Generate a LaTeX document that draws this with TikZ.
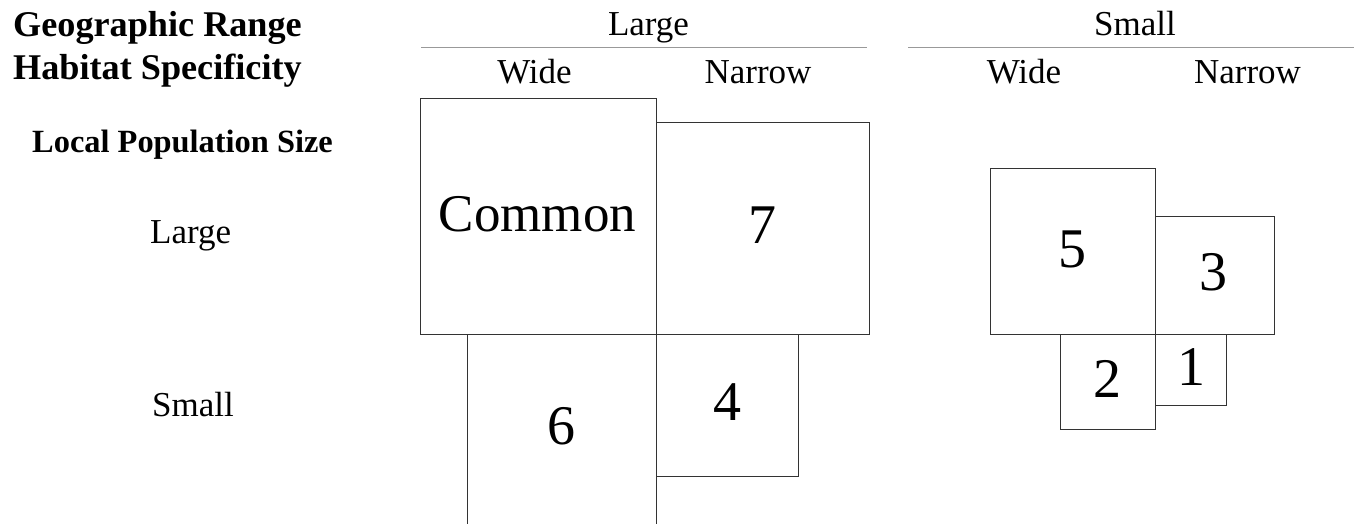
\documentclass[tikz,border=0pt]{standalone}
\usepackage{fontspec}
\setmainfont{Liberation Serif}
\begin{document}
\begin{tikzpicture}[x=1pt, y=-1pt,
  txt/.style={inner sep=0pt, anchor=base, font=\fontsize{35}{40}\selectfont},
  rowtxt/.style={txt, anchor=base west},
  head/.style={inner sep=0pt, anchor=base west, font=\fontsize{36.2}{40}\selectfont\bfseries},
  rule/.style={draw=black!40, line width=1.2pt},
  cell/.style={draw=black!80, line width=1.3pt, anchor=north west, inner sep=0pt},
  num/.style={inner sep=0pt, font=\fontsize{56}{60}\selectfont}]
\useasboundingbox (0,0) rectangle (1357,523);

% row and column headings
\node[head] (geo) at (13,36) {Geographic Range};
\node[head] (hab) at (13,79) {Habitat Specificity};
\node[head, font=\fontsize{32.4}{36}\selectfont\bfseries] (loc) at (32,152) {Local Population Size};
\node[rowtxt] (rowL) at (150,243) {Large};
\node[rowtxt] (rowS) at (152,416) {Small};

\node[txt] (grL) at (648.5,35) {Large};
\node[txt] (grS) at (1135,35) {Small};
\coordinate (ruleLa) at (421,47.5);
\coordinate (ruleLb) at (867,47.5);
\coordinate (ruleSa) at (908,47.5);
\coordinate (ruleSb) at (1354,47.5);
\draw[rule] (ruleLa) -- (ruleLb);
\draw[rule] (ruleSa) -- (ruleSb);
\node[txt] (lw) at (534.5,83) {Wide};
\node[txt] (ln) at (758,83) {Narrow};
\node[txt] (sw) at (1024,83) {Wide};
\node[txt] (sn) at (1247.5,83) {Narrow};

% large geographic range
\node[cell, minimum width=236.5pt, minimum height=236.5pt] (common) at (419.5,97.5) {};
\node[cell, minimum width=212.5pt, minimum height=212.5pt] (seven) at (656,121.5) {};
\node[cell, minimum width=189.5pt, minimum height=189.5pt] (six) at (466.5,334) {};
\node[cell, minimum width=141.5pt, minimum height=142pt] (four) at (656,334) {};

% small geographic range
\node[cell, minimum width=165.5pt, minimum height=166pt] (five) at (989.5,168) {};
\node[cell, minimum width=118.5pt, minimum height=118pt] (three) at (1155,216) {};
\node[cell, minimum width=95pt, minimum height=94.5pt] (two) at (1060,334) {};
\node[cell, minimum width=71pt, minimum height=71pt] (one) at (1155,334) {};

% cell labels
\node[num, font=\fontsize{53}{58}\selectfont, anchor=base] (tCommon) at (537.5,231) {Common};
\node[num] (t7) at ([yshift=3.5pt]seven.center) {7};
\node[num] (t6) at ([yshift=3.5pt]six.center) {6};
\node[num] (t4) at ([yshift=4pt]four.center) {4};
\node[num] (t5) at ([yshift=2.5pt]five.center) {5};
\node[num] (t3) at ([xshift=-1pt, yshift=3.5pt]three.center) {3};
\node[num] (t2) at ([xshift=-1pt, yshift=3pt]two.center) {2};
\node[num] (t1) at ([yshift=3.5pt]one.center) {1};
\end{tikzpicture}
\end{document}
